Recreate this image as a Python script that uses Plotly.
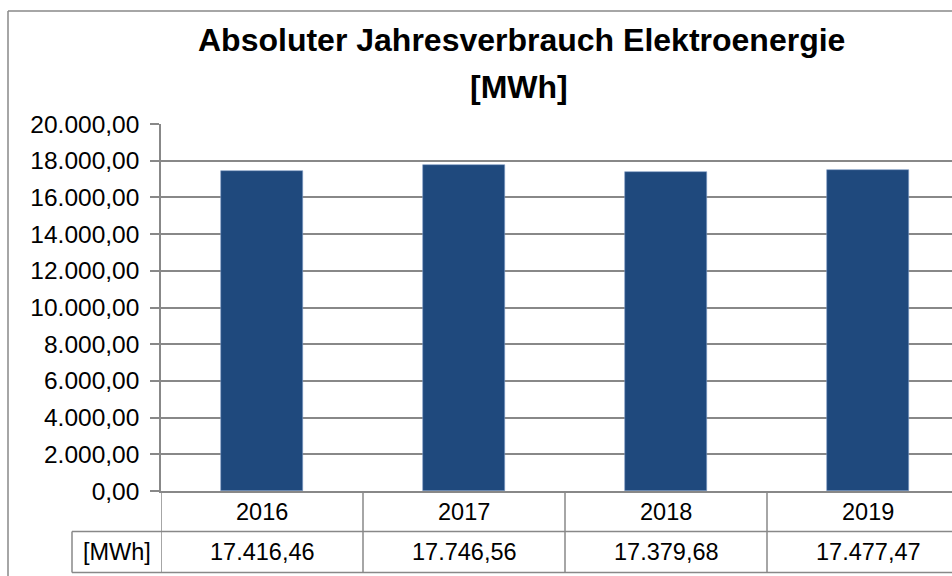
import plotly.graph_objects as go

# ---- data ----
years = ["2016", "2017", "2018", "2019"]
values = [17416.46, 17746.56, 17379.68, 17477.47]
y_ticks = [0, 2000, 4000, 6000, 8000, 10000, 12000, 14000, 16000, 18000, 20000]
title_line1 = "Absoluter Jahresverbrauch Elektroenergie"
title_line2 = "[MWh]"
row_label = "[MWh]"

W, H = 952, 576
GRAY = "#888888"
BAR = "#1F497D"
FONT = "Liberation Sans, Arial, sans-serif"


def de(v):
    s = f"{v:,.2f}"
    return s.replace(",", "X").replace(".", ",").replace("X", ".")


def px(x):
    return x / W


def py(y):
    return 1 - y / H


# plot area in pixels
x_left, y_top, y_bot = 161, 124, 491
cat_w = 202.0
x_range = [-0.5, -0.5 + (W - x_left) / cat_w]

fig = go.Figure()
fig.add_trace(go.Bar(
    x=list(range(len(years))), y=values, width=82 / cat_w,
    marker=dict(color=BAR, line=dict(color="#7f9cc4", width=0.6)),
    hoverinfo="skip", showlegend=False,
))

shapes = []
line = dict(color=GRAY, width=1.5)
# outer chart border (left/top visible)
shapes.append(dict(type="line", xref="paper", yref="paper", x0=px(8), x1=px(8), y0=py(11), y1=0, line=line))
shapes.append(dict(type="line", xref="paper", yref="paper", x0=px(8), x1=1, y0=py(11), y1=py(11), line=line))
# data table horizontal lines
r1, r2 = 531.5, 572.5
shapes.append(dict(type="line", xref="paper", yref="paper", x0=px(72), x1=1, y0=py(r1), y1=py(r1), line=line))
shapes.append(dict(type="line", xref="paper", yref="paper", x0=px(72), x1=1, y0=py(r2), y1=py(r2), line=line))
shapes.append(dict(type="line", xref="paper", yref="paper", x0=px(72), x1=px(72), y0=py(r1), y1=py(r2), line=line))
# vertical dividers at category boundaries
for b in [i - 0.5 for i in range(len(years) + 1)]:
    shapes.append(dict(type="line", xref="x", yref="paper", x0=b, x1=b, y0=py(y_bot), y1=py(r2), line=line))

TFS = 23.5
annotations = [
    dict(text=f"<b>{title_line1}</b>", x=px(521), y=py(40), xref="paper", yref="paper",
         showarrow=False, xanchor="center", yanchor="middle", font=dict(size=32, family=FONT, color="black")),
    dict(text=f"<b>{title_line2}</b>", x=px(519), y=py(87), xref="paper", yref="paper",
         showarrow=False, xanchor="center", yanchor="middle", font=dict(size=32, family=FONT, color="black")),
    dict(text=row_label, x=px(116.5), y=py(552), xref="paper", yref="paper",
         showarrow=False, xanchor="center", yanchor="middle", font=dict(size=TFS, family=FONT, color="black")),
]
for i, (yr, v) in enumerate(zip(years, values)):
    annotations.append(dict(text=yr, x=i, y=py(512), xref="x", yref="paper", showarrow=False,
                            xanchor="center", yanchor="middle", font=dict(size=TFS, family=FONT, color="black")))
    annotations.append(dict(text=de(v), x=i, y=py(552), xref="x", yref="paper", showarrow=False,
                            xanchor="center", yanchor="middle", font=dict(size=TFS, family=FONT, color="black")))

fig.update_layout(
    width=W, height=H,
    margin=dict(l=0, r=0, t=0, b=0, pad=0, autoexpand=False),
    paper_bgcolor="white", plot_bgcolor="white",
    shapes=shapes, annotations=annotations,
    xaxis=dict(domain=[px(x_left), 1], range=x_range, showticklabels=False, ticks="",
               showgrid=False, zeroline=False, showline=True, linecolor=GRAY, linewidth=1.5,
               fixedrange=True, automargin=False),
    yaxis=dict(domain=[py(y_bot), py(y_top)], range=[0, 20000], tickvals=y_ticks,
               ticktext=[de(t) for t in y_ticks], ticks="outside", ticklen=9, tickcolor=GRAY, tickwidth=1.5,
               showgrid=True, gridcolor=GRAY, gridwidth=1.5, zeroline=False,
               showline=True, linecolor=GRAY, linewidth=1.5, ticklabelstandoff=6,
               tickfont=dict(size=24.5, family=FONT, color="black"), fixedrange=True, automargin=False),
    bargap=0,
)

fig.write_html("out.html", config={"displayModeBar": False},
               post_script="document.body.style.margin='0';document.body.style.overflow='hidden';")
